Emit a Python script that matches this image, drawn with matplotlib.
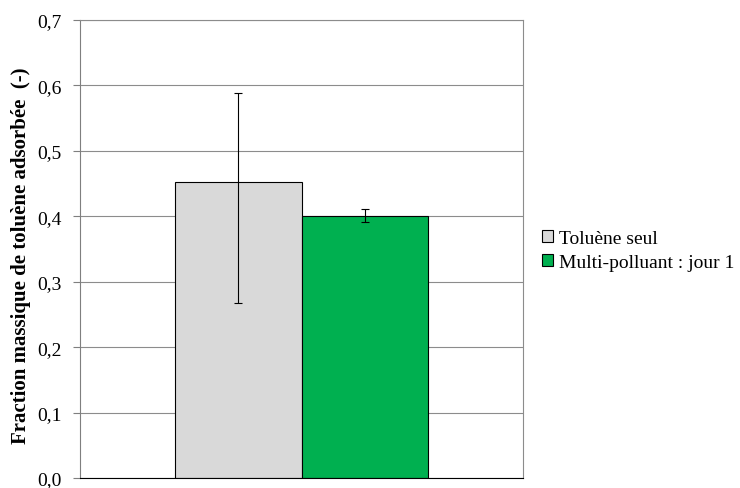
import matplotlib
matplotlib.use("Agg")
import matplotlib.pyplot as plt
import numpy as np
from matplotlib.ticker import FuncFormatter, MultipleLocator

series = ["Toluène seul", "Multi-polluant : jour 1"]
values = [0.453, 0.401]
err_low = [0.186, 0.010]
err_high = [0.135, 0.010]
colors = ["#d9d9d9", "#00b050"]

plt.rcParams['font.family'] = ['Liberation Serif', 'DejaVu Serif']

fig = plt.figure(figsize=(7.4, 4.89), dpi=100)
ax = fig.add_axes([80/740, 10/489, 443/740, 458/489])

width = 0.285
offsets = [-width/2, width/2]
handles = []
for i, (s, v) in enumerate(zip(series, values)):
    b = ax.bar(offsets[i], v, width=width, color=colors[i], edgecolor="black",
               linewidth=0.8, label=s, zorder=2)
    ax.errorbar(offsets[i], v, yerr=[[err_low[i]], [err_high[i]]], fmt="none",
                ecolor="black", elinewidth=0.8, capsize=3, capthick=0.8, zorder=3)
    handles.append(b)

ax.set_xlim(-0.5, 0.5)
ax.set_ylim(0, 0.7)
ax.yaxis.set_major_locator(MultipleLocator(0.1))
ax.yaxis.set_major_formatter(FuncFormatter(lambda y, p: f"{y:.1f}".replace(".", ",")))
ax.set_xticks([])
ax.grid(axis="y", color="#8c8c8c", linewidth=0.8, zorder=0)
ax.set_axisbelow(True)
for sp in ["top", "right"]:
    ax.spines[sp].set_color("#8c8c8c")
    ax.spines[sp].set_linewidth(0.8)
ax.spines["left"].set_color("#7f7f7f")
ax.spines["bottom"].set_color("black")
ax.tick_params(axis="y", direction="out", length=5, width=0.8, color="#7f7f7f",
               labelsize=14, pad=8)
ax.set_ylabel("Fraction massique de toluène adsorbée  (-)", fontsize=15,
              fontweight="bold", va="center")
ax.yaxis.set_label_coords(-0.133, 0.487)

leg = fig.legend(handles=handles, labels=series, loc="upper left",
                 bbox_to_anchor=(534/740, 1 - 223/489), frameon=False,
                 fontsize=14, handlelength=0.6, handleheight=0.6,
                 handletextpad=0.3, labelspacing=0.35, borderaxespad=0)

fig.savefig("out.png", dpi=100)
